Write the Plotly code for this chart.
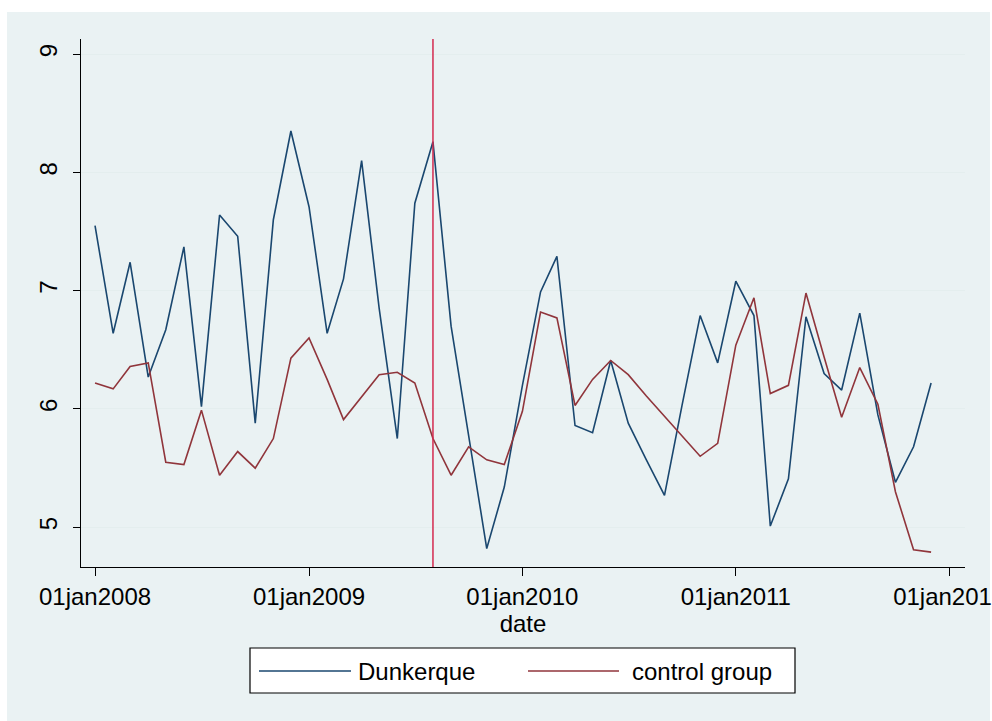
import pandas as pd
import plotly.graph_objects as go

# ---- data ----
start_month = "2008-01-01"
n_months = 48
dunkerque = [7.55, 6.64, 7.24, 6.27, 6.67, 7.37, 6.02, 7.64, 7.46, 5.88, 7.60, 8.35,
             7.71, 6.64, 7.10, 8.10, 6.85, 5.75, 7.74, 8.26, 6.70, 5.76, 4.82, 5.34,
             6.20, 6.99, 7.29, 5.86, 5.80, 6.41, 5.88, 5.57, 5.27, 6.03, 6.79, 6.39,
             7.08, 6.79, 5.01, 5.41, 6.78, 6.30, 6.16, 6.81, 5.95, 5.38, 5.68, 6.22]
control = [6.22, 6.17, 6.36, 6.39, 5.55, 5.53, 5.99, 5.44, 5.64, 5.50, 5.75, 6.43,
           6.60, 6.25, 5.91, 6.10, 6.29, 6.31, 6.22, 5.75, 5.44, 5.68, 5.57, 5.53,
           5.98, 6.82, 6.77, 6.03, 6.25, 6.41, 6.29, 6.11, 5.94, 5.77, 5.60, 5.71,
           6.54, 6.94, 6.13, 6.20, 6.98, 6.44, 5.93, 6.35, 6.04, 5.30, 4.81, 4.79]
event_date = "2009-08-01"
x_tickvals = ["2008-01-01", "2009-01-01", "2010-01-01", "2011-01-01", "2012-01-01"]
x_ticktext = ["01jan2008", "01jan2009", "01jan2010", "01jan2011", "01jan2012"]
y_tickvals = [5, 6, 7, 8, 9]
series_names = ["Dunkerque", "control group"]

dates = pd.date_range(start_month, periods=n_months, freq="MS")

BLUE = "#1a476f"
RED = "#90353b"
BG = "#eaf2f3"
FONT = "Liberation Sans, Arial, sans-serif"
FS = 24

fig = go.Figure()
fig.add_trace(go.Scatter(x=dates, y=dunkerque, mode="lines", name=series_names[0],
                         line=dict(color=BLUE, width=1.6), showlegend=False))
fig.add_trace(go.Scatter(x=dates, y=control, mode="lines", name=series_names[1],
                         line=dict(color=RED, width=1.6), showlegend=False))

PL, PR, PT, PB = 81, 965, 39, 567
PW, PH = PR - PL, PB - PT

def px(x):
    return (x - PL) / PW

def py(y):
    return (PB - y) / PH

shapes = []
# outer bluish-gray background
shapes.append(dict(type="rect", xref="paper", yref="paper", layer="below",
                   x0=px(7), x1=px(990), y0=py(721), y1=py(12),
                   fillcolor=BG, line=dict(width=0)))
# event line
shapes.append(dict(type="line", xref="x", yref="y domain", x0=event_date, x1=event_date,
                   y0=0, y1=1, line=dict(color="#d42a4f", width=1.5)))
# legend box
shapes.append(dict(type="rect", xref="paper", yref="paper",
                   x0=px(250), x1=px(795), y0=py(693), y1=py(648),
                   fillcolor="white", line=dict(color="black", width=1.2)))
ly = py(671)
shapes.append(dict(type="line", xref="paper", yref="paper",
                   x0=px(259), x1=px(351), y0=ly, y1=ly,
                   line=dict(color=BLUE, width=1.6)))
shapes.append(dict(type="line", xref="paper", yref="paper",
                   x0=px(528), x1=px(619), y0=ly, y1=ly,
                   line=dict(color=RED, width=1.6)))

annotations = [
    dict(text=series_names[0], xref="paper", yref="paper", x=px(356), y=ly,
         xanchor="left", yanchor="middle", showarrow=False,
         font=dict(family=FONT, size=FS, color="black")),
    dict(text=series_names[1], xref="paper", yref="paper", x=px(630), y=ly,
         xanchor="left", yanchor="middle", showarrow=False,
         font=dict(family=FONT, size=FS, color="black")),
]

fig.update_layout(
    width=992, height=721,
    margin=dict(l=PL, r=992 - PR, t=PT, b=721 - PB, autoexpand=False),
    paper_bgcolor="white",
    plot_bgcolor="white",
    font=dict(family=FONT, size=FS, color="black"),
    shapes=shapes,
    annotations=annotations,
    showlegend=False,
)
fig.update_xaxes(
    type="date", range=["2007-12-08", "2012-01-28"],
    tickmode="array", tickvals=x_tickvals, ticktext=x_ticktext,
    ticks="outside", ticklen=8, tickwidth=1.2, tickcolor="black",
    ticklabeloverflow="allow", automargin=False,
    showline=True, linecolor="black", linewidth=1.2,
    showgrid=False, zeroline=False,
    title=dict(text="date", standoff=0, font=dict(size=FS)),
    tickfont=dict(size=FS),
)
fig.update_yaxes(
    range=[4.664, 9.128],
    tickmode="array", tickvals=y_tickvals,
    ticks="outside", ticklen=7, tickwidth=1.2, tickcolor="black",
    tickangle=-90, ticklabelstandoff=6, automargin=False,
    showline=True, linecolor="black", linewidth=1.2,
    showgrid=True, gridcolor="#e4eeee", gridwidth=1, zeroline=False,
    tickfont=dict(size=FS),
)

fig.write_html("out.html", config={"displayModeBar": False},
               post_script="document.body.style.margin='0px';")
